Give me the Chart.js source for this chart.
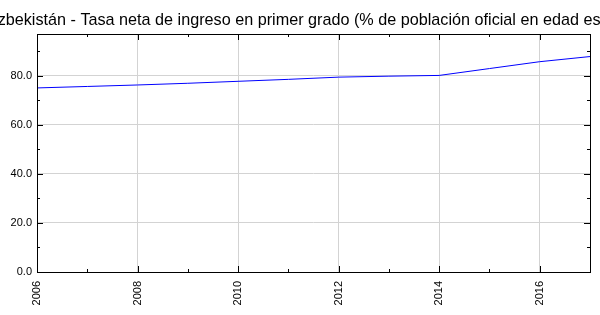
<!DOCTYPE html>
<html lang="es">
<head>
<meta charset="UTF-8">
<title>Uzbekistán - Tasa neta de ingreso en primer grado</title>
<script src="https://cdn.jsdelivr.net/npm/chart.js"></script>
<style>
  html, body { margin: 0; padding: 0; background: #fff; }
  #wrap { width: 600px; height: 315px; }
</style>
</head>
<body>
<div id="wrap"><canvas id="chart" width="600" height="315"></canvas></div>
<script>
const titleText = 'Uzbekistán - Tasa neta de ingreso en primer grado (% de población oficial en edad escolar)';
const years = [2006, 2007, 2008, 2009, 2010, 2011, 2012, 2013, 2014, 2015, 2016, 2017];
const values = [75.1, 75.7, 76.3, 77.0, 77.8, 78.6, 79.5, 79.9, 80.2, 83.0, 85.8, 87.9];
const yTicks = [0, 20, 40, 60, 80];
const yMinor = [10, 30, 50, 70, 90];
const yMax = 97.1;

const font = '"Liberation Sans", Arial, sans-serif';

// frame, inward ticks and title
const framePlugin = {
  id: 'frame',
  afterDraw(chart) {
    const { ctx, chartArea: a, scales } = chart;
    const x = scales.x, y = scales.y;
    ctx.save();
    ctx.strokeStyle = '#000';
    ctx.lineWidth = 1;
    ctx.strokeRect(Math.round(a.left) + 0.5, Math.round(a.top) + 0.5,
      Math.round(a.right - a.left), Math.round(a.bottom - a.top));

    ctx.beginPath();
    years.forEach(yr => {
      const px = Math.round(x.getPixelForValue(yr)) + 0.5;
      const len = yr % 2 === 0 ? 6 : 3;
      ctx.moveTo(px, a.bottom); ctx.lineTo(px, a.bottom - len);
      ctx.moveTo(px, a.top); ctx.lineTo(px, a.top + len);
    });
    yTicks.concat(yMinor).forEach(v => {
      const py = Math.round(y.getPixelForValue(v)) + 0.5;
      const len = yTicks.includes(v) ? 6 : 3;
      ctx.moveTo(a.left, py); ctx.lineTo(a.left + len, py);
      ctx.moveTo(a.right, py); ctx.lineTo(a.right - len, py);
    });
    ctx.stroke();

    ctx.fillStyle = '#000';
    ctx.font = '16.2px ' + font;
    ctx.textAlign = 'center';
    ctx.textBaseline = 'alphabetic';
    ctx.fillText(titleText, (a.left + a.right) / 2, 25);
    ctx.restore();
  }
};

new Chart(document.getElementById('chart'), {
  type: 'line',
  data: {
    datasets: [{
      data: years.map((yr, i) => ({ x: yr, y: values[i] })),
      borderColor: '#0000ff',
      borderWidth: 1,
      pointRadius: 0,
      tension: 0,
      fill: false
    }]
  },
  options: {
    responsive: false,
    animation: false,
    layout: { padding: { top: 34, right: 10, left: 0, bottom: 0 } },
    plugins: { legend: { display: false }, tooltip: { enabled: false }, title: { display: false } },
    scales: {
      x: {
        type: 'linear',
        min: 2006,
        max: 2017,
        afterFit(s) { s.height = 43; s.paddingLeft = 0; s.paddingRight = 0; },
        border: { display: false },
        grid: {
          drawTicks: false,
          color: c => (c.tick && c.tick.value % 2 === 0) ? '#d3d3d3' : 'rgba(0,0,0,0)'
        },
        ticks: {
          stepSize: 1,
          autoSkip: false,
          minRotation: 90,
          maxRotation: 90,
          padding: 9,
          color: '#000',
          font: { family: font, size: 11 },
          callback: v => v % 2 === 0 ? String(v) : ''
        }
      },
      y: {
        min: 0,
        max: yMax,
        afterFit(s) { s.width = 37; s.paddingTop = 0; s.paddingBottom = 0; },
        border: { display: false },
        grid: { drawTicks: false, color: '#d3d3d3' },
        ticks: {
          stepSize: 20,
          includeBounds: false,
          padding: 5,
          color: '#000',
          font: { family: font, size: 11 },
          callback: v => v.toFixed(1)
        }
      }
    }
  },
  plugins: [framePlugin]
});
</script>
</body>
</html>
